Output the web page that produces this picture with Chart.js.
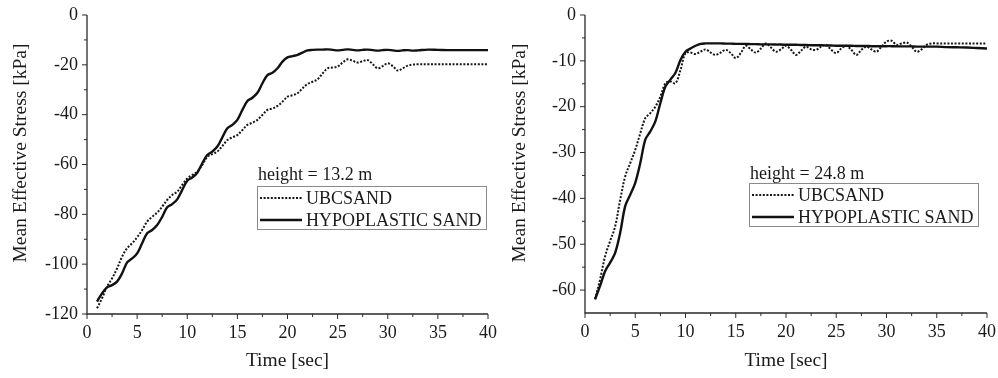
<!DOCTYPE html>
<html>
<head>
<meta charset="utf-8">
<script src="https://cdn.jsdelivr.net/npm/chart.js@4.4.1/dist/chart.umd.min.js"></script>
<style>
  body { margin: 0; background: #fff; }
  .wrap { position: absolute; top: 0; width: 499px; height: 378px; }
  #leftWrap { left: 0; }
  #rightWrap { left: 499px; }
</style>
</head>
<body>
<div class="wrap" id="leftWrap"><canvas id="chartLeft"></canvas></div>
<div class="wrap" id="rightWrap"><canvas id="chartRight"></canvas></div>
<script>
// ---- data ----
const seriesNames = ["UBCSAND", "HYPOPLASTIC SAND"];
const xTitle = "Time [sec]";
const yTitle = "Mean Effective Stress [kPa]";
const xTicks = [0, 5, 10, 15, 20, 25, 30, 35, 40];

// height = 13.2 m
const heightLeft = "height = 13.2 m";
const yTicksLeft = [-120, -100, -80, -60, -40, -20, 0];
const timeLeft = [1, 1.5, 2, 2.5, 3, 3.5, 4, 4.5, 5, 5.5, 6, 6.5, 7, 7.5, 8, 8.5, 9, 9.5, 10, 10.5,
  11, 11.5, 12, 12.5, 13, 13.5, 14, 14.5, 15, 15.5, 16, 16.5, 17, 17.5, 18, 18.5, 19, 19.5, 20, 20.5,
  21, 21.5, 22, 22.5, 23, 23.5, 24, 24.5, 25, 25.5, 26, 26.5, 27, 27.5, 28, 28.5, 29, 29.5, 30, 30.5,
  31, 31.5, 32, 32.5, 33, 34, 35, 36, 37, 38, 39, 40];
const ubcLeft = [-117.7, -113.7, -109, -105.7, -101.7, -97, -93.6, -91.6, -89.2, -86.3,
  -82.9, -81, -79.3, -76.9, -74.2, -72.2, -70.9, -68.2, -65.6, -64.2,
  -62.9, -60.2, -56.9, -55.8, -54.8, -52.6, -50.2, -49.1, -48.2, -46.2,
  -44.1, -43.2, -42.1, -40.1, -38.1, -37.5, -36.5, -34.8, -32.8, -32.2,
  -31.4, -29.4, -27.7, -26.8, -25.8, -23.4, -21.4, -21.1, -20.7, -19.1,
  -17.8, -18.3, -19.1, -18.5, -18.1, -19.7, -21.4, -20.5, -19.4, -20.5,
  -22.3, -21.4, -20.3, -19.9, -19.8, -19.8, -19.8, -19.8, -19.8, -19.8, -19.8, -19.8];
const hypoLeft = [-115, -111.7, -109.3, -108.4, -107, -103.7, -99.3, -97.7, -95.7, -91.6,
  -87.6, -86.3, -84.3, -81, -77.2, -75.9, -74, -70.2, -66.5, -65.2,
  -63.3, -59.5, -56.2, -54.8, -52.8, -49.1, -45.5, -44.1, -42.1, -38.1,
  -34.5, -33.2, -31.2, -27.4, -24.1, -23.2, -21.4, -18.7, -17, -16.5,
  -16, -15.1, -14.2, -14.0, -13.9, -13.9, -13.8, -14.0, -14.2, -14.0,
  -13.8, -14.0, -14.2, -14.0, -13.9, -14.1, -14.3, -14.1, -14.0, -14.2,
  -14.4, -14.2, -14.1, -14.3, -14.2, -13.9, -14.0, -14.1, -14.1, -14.1, -14.1, -14.1];

// height = 24.8 m
const heightRight = "height = 24.8 m";
const yTicksRight = [-60, -50, -40, -30, -20, -10, 0];
const timeRight = [1, 1.5, 2, 2.5, 3, 3.5, 4, 4.5, 5, 5.5, 6, 6.5, 7, 7.5, 8, 8.5, 9, 9.5, 10, 10.5,
  11, 11.5, 12, 12.5, 13, 13.5, 14, 14.5, 15, 15.5, 16, 16.5, 17, 17.5, 18, 18.5, 19, 19.5, 20, 20.5,
  21, 21.5, 22, 22.5, 23, 23.5, 24, 24.5, 25, 25.5, 26, 26.5, 27, 27.5, 28, 28.5, 29, 29.5, 30, 30.5,
  31, 31.5, 32, 32.5, 33, 33.5, 34, 34.5, 35, 36, 37, 38, 39, 40];
const ubcRight = [-62, -57.7, -52.6, -49.3, -46.1, -40.3, -35.2, -32.3, -29.4, -25.8,
  -22.5, -21.4, -20, -17.8, -14.9, -14.5, -14.9, -12, -8.3, -8.2,
  -8.5, -8, -7.5, -8.2, -8.7, -8.2, -7.6, -8.3, -9.4, -8.3,
  -6.7, -7.5, -8.2, -7.3, -6.2, -7.1, -8, -7.5, -6.7, -7.6,
  -8.7, -7.8, -6.9, -7.5, -7.6, -6.9, -6.5, -7.6, -8.3, -7.3,
  -6.7, -7.6, -8.7, -7.6, -6.9, -7.5, -8, -6.9, -5.8, -5.6,
  -6.5, -6.2, -6.0, -6.9, -8, -7.5, -6.5, -6.2, -6.2, -6.2, -6.2, -6.2, -6.2, -6.2];
const hypoRight = [-62, -59.1, -55.9, -54, -51.9, -47.5, -41.7, -39.2, -36.6, -32.3,
  -27.2, -25.4, -23.2, -19.2, -15.6, -14.1, -12.6, -9.8, -8.0, -7.3,
  -6.7, -6.3, -6.2, -6.2, -6.2, -6.2, -6.25, -6.25, -6.3, -6.3,
  -6.3, -6.35, -6.35, -6.4, -6.4, -6.4, -6.45, -6.45, -6.5, -6.5,
  -6.5, -6.55, -6.55, -6.6, -6.6, -6.6, -6.65, -6.65, -6.7, -6.7,
  -6.7, -6.7, -6.75, -6.75, -6.75, -6.8, -6.8, -6.8, -6.8, -6.8,
  -6.85, -6.85, -6.85, -6.85, -6.9, -6.9, -6.9, -6.9, -6.9, -7.0, -7.05, -7.1, -7.2, -7.3];

Chart.defaults.font.family = "'Liberation Serif', 'Times New Roman', serif";
Chart.defaults.color = "#1a1a1a";

function pairs(xs, ys) {
  return xs.map((x, i) => ({ x: x, y: ys[i] }));
}

// draws axis lines, tick marks, y title and the boxed legend
const paperAxes = {
  id: "paperAxes",
  afterDraw(chart, args, opts) {
    const ctx = chart.ctx;
    const xs = chart.scales.x, ys = chart.scales.y;
    const area = chart.chartArea;
    ctx.save();
    ctx.strokeStyle = "#2a2a2a";
    ctx.lineWidth = 1.3;
    ctx.beginPath();
    ctx.moveTo(area.left, area.top);
    ctx.lineTo(area.left, area.bottom);
    ctx.lineTo(area.right, area.bottom);
    ctx.stroke();

    // y ticks (outside), majors + minors halfway
    ctx.lineWidth = 1;
    const yv = opts.yTicks;
    ctx.beginPath();
    yv.forEach((v, i) => {
      const p = ys.getPixelForValue(v);
      ctx.moveTo(area.left - 5, p); ctx.lineTo(area.left, p);
      if (i > 0) {
        const m = ys.getPixelForValue((v + yv[i - 1]) / 2);
        ctx.moveTo(area.left - 3, m); ctx.lineTo(area.left, m);
      }
    });
    // x ticks
    xTicks.forEach((v, i) => {
      const p = xs.getPixelForValue(v);
      ctx.moveTo(p, area.bottom); ctx.lineTo(p, area.bottom + 5);
      if (i > 0) {
        const m = xs.getPixelForValue((v + xTicks[i - 1]) / 2);
        ctx.moveTo(m, area.bottom); ctx.lineTo(m, area.bottom + 3);
      }
    });
    ctx.stroke();

    // y title
    ctx.fillStyle = "#1a1a1a";
    ctx.font = "19.5px 'Liberation Serif'";
    ctx.textAlign = "center";
    ctx.textBaseline = "middle";
    ctx.translate(opts.yTitleX, opts.yTitleY);
    ctx.rotate(-Math.PI / 2);
    ctx.fillText(yTitle, 0, 0);
    ctx.restore();

    // legend
    const lg = opts.legend;
    ctx.save();
    ctx.fillStyle = "#1a1a1a";
    ctx.font = "18px 'Liberation Serif'";
    ctx.textAlign = "left";
    ctx.textBaseline = "alphabetic";
    ctx.fillText(lg.title, lg.titleX, lg.titleY);
    ctx.strokeStyle = "#8a8a8a";
    ctx.lineWidth = 1;
    ctx.strokeRect(lg.x + 0.5, lg.y + 0.5, lg.w, lg.h);
    ctx.textBaseline = "middle";
    chart.data.datasets.forEach((ds, i) => {
      const cy = lg.y + 12 + i * 22;
      ctx.strokeStyle = ds.borderColor;
      ctx.lineWidth = ds.borderWidth;
      ctx.setLineDash(ds.borderDash || []);
      ctx.beginPath();
      ctx.moveTo(lg.x + 3, cy);
      ctx.lineTo(lg.x + 45, cy);
      ctx.stroke();
      ctx.setLineDash([]);
      ctx.fillText(ds.label, lg.x + 49, cy + 1);
    });
    ctx.restore();
  }
};

function makeChart(id, time, ubc, hypo, yMin, yTicks, cfg) {
  const ctx = document.getElementById(id).getContext("2d");
  return new Chart(ctx, {
    type: "line",
    data: {
      datasets: [
        {
          label: seriesNames[0],
          data: pairs(time, ubc),
          borderColor: "#161616",
          borderWidth: 2,
          borderDash: [2, 1.6],
          pointRadius: 0,
          tension: 0.35,
          fill: false
        },
        {
          label: seriesNames[1],
          data: pairs(time, hypo),
          borderColor: "#111",
          borderWidth: 2.4,
          pointRadius: 0,
          tension: 0.35,
          fill: false
        }
      ]
    },
    options: {
      responsive: true,
      maintainAspectRatio: false,
      animation: false,
      layout: { padding: { left: 0, top: 15, right: cfg.padRight, bottom: 0 } },
      plugins: {
        legend: { display: false },
        tooltip: { enabled: false },
        paperAxes: {
          yTicks: yTicks,
          yTitleX: 21,
          yTitleY: 153,
          legend: cfg.legend
        }
      },
      scales: {
        x: {
          type: "linear",
          min: 0,
          max: 40,
          afterBuildTicks: (s) => { s.ticks = xTicks.map(v => ({ value: v })); },
          afterFit: (s) => { s.height = cfg.xHeight; s.paddingLeft = 0; s.paddingRight = 0; },
          grid: { display: false, drawTicks: false },
          border: { display: false },
          ticks: { font: { size: 18 }, padding: 8, maxRotation: 0, autoSkip: false },
          title: { display: true, text: xTitle, font: { size: 19.5 }, padding: 5 }
        },
        y: {
          type: "linear",
          min: yMin,
          max: 0,
          afterBuildTicks: (s) => { s.ticks = yTicks.map(v => ({ value: v })); },
          afterFit: (s) => { s.width = cfg.yWidth; s.paddingTop = 0; s.paddingBottom = 0; },
          grid: { display: false, drawTicks: false },
          border: { display: false },
          ticks: { font: { size: 18 }, padding: 9, autoSkip: false }
        }
      }
    },
    plugins: [paperAxes]
  });
}

makeChart("chartLeft", timeLeft, ubcLeft, hypoLeft, -120, yTicksLeft, {
  padRight: 11, xHeight: 64, yWidth: 87,
  legend: { title: heightLeft, titleX: 258, titleY: 180, x: 257, y: 186, w: 229, h: 43 }
});

makeChart("chartRight", timeRight, ubcRight, hypoRight, -65, yTicksRight, {
  padRight: 11, xHeight: 65, yWidth: 86,
  legend: { title: heightRight, titleX: 251, titleY: 179, x: 250, y: 183, w: 229, h: 43 }
});
</script>
</body>
</html>
